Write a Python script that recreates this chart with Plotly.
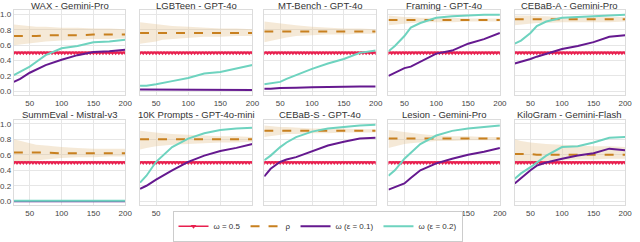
import plotly.graph_objects as go

xs = [25, 35, 50, 60, 75, 100, 125, 150, 175, 200]
red_x = list(range(25, 201, 5))
red_level = 0.5

titles = ["WAX - Gemini-Pro", "LGBTeen - GPT-4o", "MT-Bench - GPT-4o", "Framing - GPT-4o", "CEBaB-A - Gemini-Pro",
          "SummEval - Mistral-v3", "10K Prompts - GPT-4o-mini", "CEBaB-S - GPT-4o", "Lesion - Gemini-Pro", "KiloGram - Gemini-Flash"]

teal = [
    [0.21, 0.25, 0.32, 0.38, 0.47, 0.56, 0.59, 0.64, 0.65, 0.67],
    [0.07, 0.07, 0.09, 0.11, 0.13, 0.17, 0.23, 0.25, 0.29, 0.34],
    [0.09, 0.10, 0.12, 0.16, 0.21, 0.29, 0.36, 0.42, 0.50, 0.53],
    [0.52, 0.59, 0.72, 0.83, 0.89, 0.96, 0.98, 0.99, 1.00, 1.00],
    [0.62, 0.66, 0.76, 0.85, 0.91, 0.96, 0.97, 0.98, 0.99, 1.00],
    [0.005] * 10,
    [0.24, 0.33, 0.51, 0.59, 0.70, 0.81, 0.88, 0.92, 0.94, 0.95],
    [0.53, 0.59, 0.70, 0.76, 0.83, 0.90, 0.94, 0.96, 0.98, 0.99],
    [0.33, 0.40, 0.55, 0.63, 0.74, 0.85, 0.91, 0.94, 0.96, 0.98],
    [0.29, 0.36, 0.44, 0.50, 0.59, 0.70, 0.71, 0.76, 0.82, 0.83],
]
purple = [
    [0.12, 0.16, 0.24, 0.28, 0.34, 0.41, 0.47, 0.51, 0.52, 0.54],
    [0.02, 0.02, 0.02, 0.015, 0.015, 0.015, 0.015, 0.015, 0.015, 0.015],
    [0.03, 0.03, 0.04, 0.04, 0.045, 0.05, 0.05, 0.055, 0.06, 0.06],
    [0.20, 0.24, 0.30, 0.32, 0.38, 0.49, 0.53, 0.62, 0.68, 0.76],
    [0.36, 0.38, 0.42, 0.45, 0.49, 0.55, 0.59, 0.64, 0.71, 0.73],
    [0.0] * 10,
    [0.16, 0.20, 0.28, 0.33, 0.40, 0.51, 0.59, 0.65, 0.69, 0.74],
    [0.32, 0.42, 0.51, 0.54, 0.57, 0.64, 0.72, 0.77, 0.81, 0.82],
    [0.15, 0.18, 0.23, 0.30, 0.40, 0.49, 0.55, 0.60, 0.64, 0.69],
    [0.23, 0.30, 0.40, 0.46, 0.50, 0.55, 0.59, 0.62, 0.68, 0.66],
]
rho = [
    [0.72, 0.72, 0.72, 0.72, 0.73, 0.73, 0.73, 0.74, 0.74, 0.74],
    [0.76] * 10,
    [0.78] * 10,
    [0.93] * 10,
    [0.94] * 10,
    [0.63, 0.63, 0.63, 0.63, 0.63, 0.62, 0.62, 0.62, 0.62, 0.62],
    [0.80] * 10,
    [0.91] * 10,
    [0.81] * 10,
    [0.61, 0.61, 0.61, 0.60, 0.60, 0.60, 0.60, 0.60, 0.60, 0.60],
]
rho_hi = [
    [0.87, 0.86, 0.85, 0.84, 0.84, 0.83, 0.83, 0.82, 0.82, 0.81],
    [0.90, 0.89, 0.87, 0.86, 0.85, 0.84, 0.83, 0.82, 0.82, 0.81],
    [0.91, 0.90, 0.88, 0.87, 0.86, 0.84, 0.83, 0.82, 0.82, 0.81],
    [0.99, 0.98, 0.97, 0.97, 0.96, 0.96, 0.96, 0.95, 0.95, 0.95],
    [0.99, 0.99, 0.99, 0.98, 0.98, 0.97, 0.97, 0.97, 0.97, 0.97],
    [0.80, 0.78, 0.75, 0.73, 0.72, 0.70, 0.69, 0.68, 0.68, 0.68],
    [0.91, 0.90, 0.89, 0.88, 0.87, 0.86, 0.85, 0.84, 0.84, 0.83],
    [0.98, 0.97, 0.96, 0.96, 0.95, 0.94, 0.94, 0.94, 0.93, 0.93],
    [0.92, 0.91, 0.89, 0.88, 0.87, 0.85, 0.84, 0.84, 0.83, 0.83],
    [0.80, 0.78, 0.76, 0.75, 0.74, 0.73, 0.72, 0.71, 0.71, 0.70],
]
rho_lo = [
    [0.60, 0.61, 0.63, 0.64, 0.65, 0.66, 0.67, 0.68, 0.68, 0.69],
    [0.62, 0.63, 0.65, 0.67, 0.68, 0.70, 0.71, 0.71, 0.72, 0.72],
    [0.64, 0.66, 0.69, 0.70, 0.72, 0.73, 0.74, 0.74, 0.75, 0.75],
    [0.86, 0.87, 0.88, 0.89, 0.90, 0.90, 0.90, 0.91, 0.91, 0.91],
    [0.86, 0.87, 0.88, 0.89, 0.89, 0.90, 0.90, 0.90, 0.90, 0.91],
    [0.48, 0.49, 0.52, 0.53, 0.54, 0.56, 0.57, 0.57, 0.58, 0.58],
    [0.67, 0.69, 0.71, 0.72, 0.73, 0.74, 0.75, 0.76, 0.76, 0.77],
    [0.83, 0.84, 0.86, 0.87, 0.87, 0.88, 0.88, 0.89, 0.89, 0.89],
    [0.69, 0.71, 0.74, 0.75, 0.76, 0.78, 0.78, 0.79, 0.79, 0.79],
    [0.47, 0.48, 0.50, 0.51, 0.52, 0.53, 0.54, 0.54, 0.55, 0.55],
]

RED = "#e8204f"
ORANGE = "#c8801f"
PURPLE = "#65198f"
TEAL = "#6ed3bf"
BAND = "rgba(228,196,150,0.38)"
W, H = 640, 242

col_px = [(12, 125), (140, 254), (266, 379), (392, 505), (520, 632)]
row_px = [(10.7, 97.7), (122.7, 210.7)]

fig = go.Figure()
layout = dict(width=W, height=H, margin=dict(l=0, r=0, t=0, b=0),
              paper_bgcolor="white", plot_bgcolor="white",
              font=dict(family="Liberation Sans, Arial, sans-serif", size=8, color="#333"),
              annotations=[])

for i in range(10):
    r, c = divmod(i, 5)
    n = i + 1
    xa = "x" if n == 1 else f"x{n}"
    ya = "y" if n == 1 else f"y{n}"
    x0, x1 = col_px[c]
    y0, y1 = row_px[r]
    axis_common = dict(showgrid=True, gridcolor="#e6e6e6", gridwidth=1, zeroline=False,
                       showline=True, mirror=True, linecolor="#dcdcdc", linewidth=1,
                       ticks="", tickfont=dict(size=8, color="#444"))
    layout["xaxis" if n == 1 else f"xaxis{n}"] = dict(
        domain=[x0 / W, x1 / W], anchor=ya, range=[25, 200],
        tickvals=[50, 100, 150, 200], **axis_common)
    layout["yaxis" if n == 1 else f"yaxis{n}"] = dict(
        domain=[1 - y1 / H, 1 - y0 / H], anchor=xa, range=[-0.055, 1.055],
        tickvals=[0, 0.2, 0.4, 0.6, 0.8, 1.0], tickformat=".1f",
        showticklabels=(c == 0), **axis_common)
    layout["annotations"].append(dict(
        text=titles[i], x=(x0 + x1) / 2 / W, y=1 - (y0 - 5.5) / H, xref="paper", yref="paper",
        xanchor="center", yanchor="middle", showarrow=False,
        font=dict(size=9.5, color="#333")))

    show = (i == 0)
    fig.add_trace(go.Scatter(x=xs, y=rho_hi[i], mode="lines", line=dict(width=0),
                             xaxis=xa, yaxis=ya, showlegend=False, hoverinfo="skip"))
    fig.add_trace(go.Scatter(x=xs, y=rho_lo[i], mode="lines", line=dict(width=0),
                             fill="tonexty", fillcolor=BAND,
                             xaxis=xa, yaxis=ya, showlegend=False, hoverinfo="skip"))
    fig.add_trace(go.Scatter(x=red_x, y=[red_level] * len(red_x), mode="lines+markers",
                             line=dict(color=RED, width=1.5),
                             marker=dict(symbol="triangle-down", size=5, color=RED),
                             name="ω = 0.5", legendgroup="a", showlegend=show, xaxis=xa, yaxis=ya))
    fig.add_trace(go.Scatter(x=xs, y=rho[i], mode="lines",
                             line=dict(color=ORANGE, width=2, dash="dash"),
                             name="ρ", legendgroup="b", showlegend=show, xaxis=xa, yaxis=ya))
    fig.add_trace(go.Scatter(x=xs, y=purple[i], mode="lines",
                             line=dict(color=PURPLE, width=2),
                             name="ω (ε = 0.1)", legendgroup="c", showlegend=show, xaxis=xa, yaxis=ya))
    fig.add_trace(go.Scatter(x=xs, y=teal[i], mode="lines",
                             line=dict(color=TEAL, width=2),
                             name="ω (ε = 0.2)", legendgroup="d", showlegend=show, xaxis=xa, yaxis=ya))

layout["legend"] = dict(orientation="h", x=0.5, xanchor="center", y=1 - 232 / H, yanchor="middle",
                        bordercolor="#cccccc", borderwidth=1, font=dict(size=8, color="#333"),
                        itemwidth=30, tracegroupgap=0, traceorder="normal")
layout["showlegend"] = True
fig.update_layout(**layout)
fig.write_html("out.html", config={"displayModeBar": False},
               post_script="document.body.style.margin='0px';document.body.style.padding='0px';")
